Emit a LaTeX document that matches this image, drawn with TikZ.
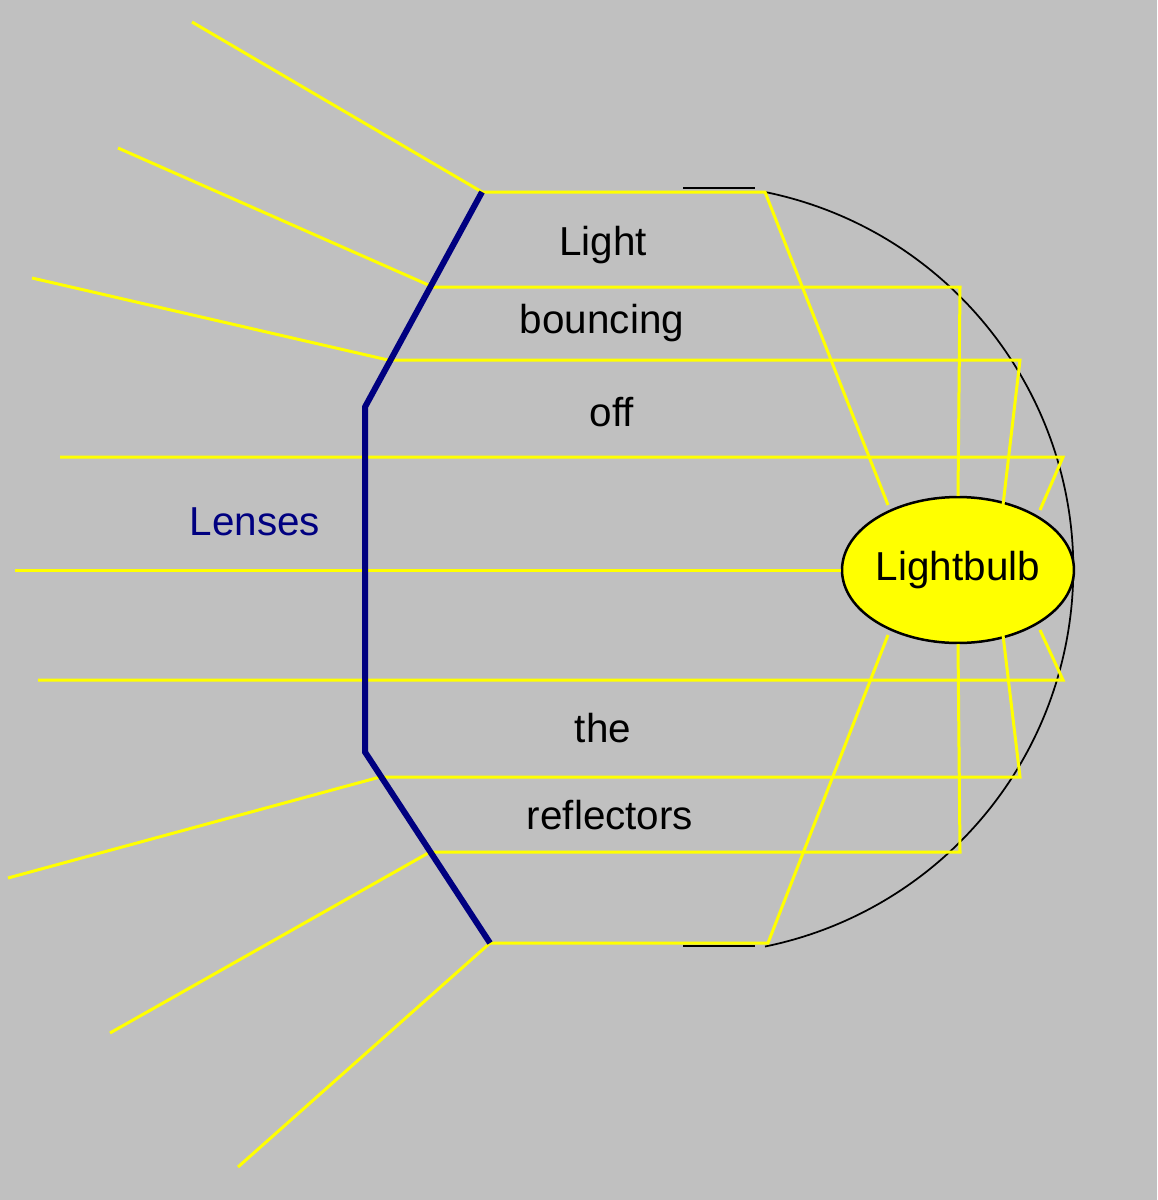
\documentclass[tikz,border=0pt]{standalone}
\usepackage{fontspec}
\setmainfont{Liberation Sans}
\usetikzlibrary{positioning,shapes.geometric}
\definecolor{bg}{RGB}{192,192,192}
\definecolor{ray}{RGB}{255,255,0}
\definecolor{lens}{RGB}{0,0,128}
\tikzset{
  beam/.style={draw=ray, line width=0.6mm},
  word/.style={font=\fontsize{23}{26}\selectfont, inner sep=0pt},
}
\begin{document}
\begin{tikzpicture}[x=0.02cm,y=-0.02cm]
  \fill[bg] (0,0) rectangle (1157,1200);
  \useasboundingbox (0,0) rectangle (1157,1200);

  % lens corners and reflector points
  \coordinate (lt) at (482,192);
  \coordinate (lb) at (490,943);
  \coordinate (l1) at (433,287);
  \coordinate (l2) at (388,360);
  \coordinate (l3) at (380,777);
  \coordinate (l4) at (430,852);
  \coordinate (rt) at (765,192);
  \coordinate (rb) at (768,943);

  % reflector
  \draw[black, line width=0.5mm] (683,188) -- (755,188);
  \draw[black, line width=0.5mm] (683,946) -- (755,946);
  \draw[black, line width=0.35mm] (rt) arc[start angle=-78.5, end angle=78.5, radius=385];

  % bulb
  \node[draw=black, fill=ray, ellipse, line width=0.5mm,
        inner sep=0pt, minimum width=4.6cm, minimum height=2.92cm, word] (bulb) at (958,570) {Lightbulb};

  % rays inside
  \draw[beam] (lt) -- (rt) -- (888,505);
  \draw[beam] (lb) -- (rb) -- (888,635);
  \draw[beam] (l1) -- (960,287) -- (bulb.north);
  \draw[beam] (l4) -- (960,852) -- (bulb.south);
  \draw[beam] (l2) -- (1020,360) -- (1003,505);
  \draw[beam] (l3) -- (1020,777) -- (1003,635);
  \draw[beam] (60,457) -- (1063,457) -- (1040,510);
  \draw[beam] (38,680) -- (1063,680) -- (1040,630);
  \draw[beam] (15,570) -- (bulb.west);

  % rays outside
  \draw[beam] (lt) -- (192,22);
  \draw[beam] (l1) -- (118,148);
  \draw[beam] (l2) -- (32,278);
  \draw[beam] (l3) -- (8,878);
  \draw[beam] (l4) -- (110,1033);
  \draw[beam] (lb) -- (238,1167);

  % lenses
  \draw[lens, line width=1.2mm] (lt) -- (365,407) -- (365,752) -- (lb);

  \node[word] (t1) at (603,245) {Light};
  \node[word] (t2) at (602,323) {bouncing};
  \node[word] (t3) at (612,412) {off};
  \node[word] (t4) at (603,728) {the};
  \node[word] (t5) at (610,815) {reflectors};
  \node[word, text=lens] (lenses) at (255,522) {Lenses};
\end{tikzpicture}
\end{document}
